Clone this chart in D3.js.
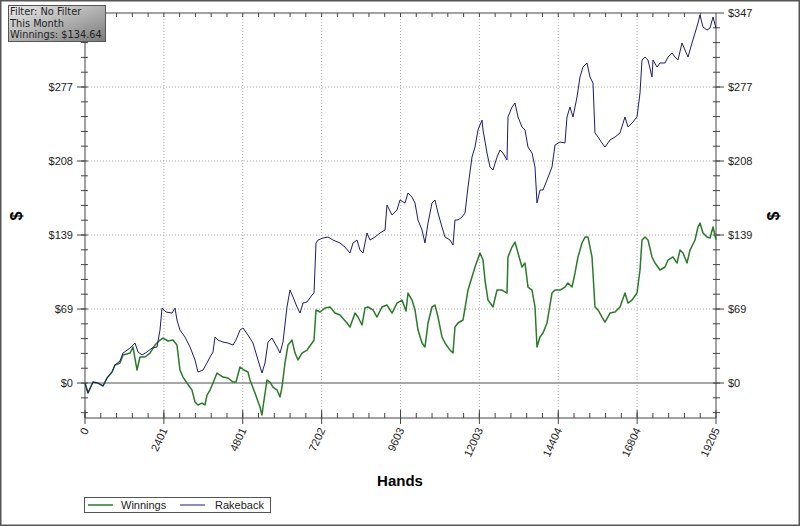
<!DOCTYPE html>
<html>
<head>
<meta charset="utf-8">
<script src="https://cdn.jsdelivr.net/npm/d3@7"></script>
<style>
  body { margin: 0; background: #fff; }
  svg { display: block; font-family: "Liberation Sans", Arial, sans-serif; }
</style>
</head>
<body>
<div class="chart"></div>
<script>
// hands played vs dollars
const winnings = [
  [0,0],[91,-9.4],[243,0.9],[396,0],[548,-2.8],[670,4.7],[822,10.3],[913,16.9],[1065,18.8],[1157,26.3],
  [1370,28.1],[1461,33.8],[1583,12.2],[1674,24.4],[1826,24.4],[1978,28.1],[2131,35.6],[2283,40.3],[2374,42.2],[2526,39.4],
  [2678,40.3],[2800,35.6],[2891,12.2],[2983,5.6],[3104,0],[3257,-6.6],[3348,-17.8],[3439,-20.6],[3561,-18.8],[3652,-20.6],
  [3713,-11.3],[3805,-6.6],[3896,0],[4018,9.4],[4109,7.5],[4200,5.6],[4352,4.7],[4505,0.9],[4596,0.9],[4718,15.0],
  [4839,12.2],[4961,10.3],[5022,2.8],[5174,-9.4],[5326,-22.5],[5387,-30.0],[5418,-22.5],[5539,2.8],[5631,0.9],[5722,-3.8],
  [5844,-6.6],[5935,-13.1],[5996,-3.8],[6087,18.8],[6179,35.6],[6300,40.3],[6392,28.1],[6483,21.6],[6605,28.1],[6757,30.9],
  [6909,37.5],[6970,40.3],[7031,68.5],[7152,66.6],[7305,70.3],[7457,71.3],[7609,65.6],[7761,63.8],[7974,56.3],[8066,52.5],
  [8218,65.6],[8309,61.9],[8431,54.4],[8522,70.3],[8613,71.3],[8766,68.5],[8887,61.9],[9039,71.3],[9192,73.1],[9344,65.6],
  [9496,75.0],[9648,77.8],[9770,67.5],[9831,84.4],[9953,77.8],[10044,68.5],[10135,49.7],[10257,37.5],[10348,33.8],[10440,56.3],
  [10561,71.3],[10653,73.1],[10744,61.9],[10866,43.1],[10957,37.5],[11109,30.9],[11200,28.1],[11261,52.5],[11353,56.3],[11505,59.1],
  [11657,87.2],[11779,99.4],[11870,108.8],[12022,121.9],[12114,115.3],[12174,96.6],[12266,77.8],[12418,71.3],[12540,87.2],[12692,87.2],
  [12844,84.4],[12874,118.2],[12996,127.5],[13087,132.2],[13179,121.9],[13300,108.8],[13392,112.5],[13483,90.0],[13605,87.2],[13696,71.3],
  [13757,33.8],[13848,43.1],[13940,46.9],[14061,56.3],[14213,84.4],[14305,87.2],[14457,87.2],[14609,90.0],[14700,93.8],[14822,90.0],
  [14914,103.2],[15005,118.2],[15127,131.3],[15218,136.9],[15309,136.9],[15431,118.2],[15461,103.2],[15522,71.3],[15614,68.5],[15735,61.9],
  [15827,57.2],[15979,65.6],[16131,66.6],[16283,71.3],[16435,84.4],[16527,75.0],[16648,77.8],[16801,84.4],[16892,106.0],[16953,134.1],
  [17044,136.9],[17135,134.1],[17257,118.2],[17349,112.5],[17501,106.0],[17653,108.8],[17744,115.3],[17896,118.2],[18018,112.5],[18109,124.7],
  [18200,121.9],[18322,112.5],[18414,124.7],[18566,134.1],[18657,146.3],[18718,150.0],[18809,140.7],[18931,136.9],[19023,136.0],[19114,146.3],
  [19205,134.64]
];

const rakeback = [
  [0,0],[91,-9.4],[243,0.9],[396,0],[548,-2.8],[670,4.7],[822,10.3],[913,16.9],[1065,20.6],[1157,28.1],
  [1370,32.8],[1522,37.5],[1613,29.1],[1735,26.3],[1887,29.1],[2039,32.8],[2191,33.8],[2283,49.7],[2344,70.3],[2465,66.6],
  [2648,65.6],[2739,70.3],[2800,59.1],[2891,49.7],[3044,43.1],[3196,33.8],[3348,21.6],[3439,10.3],[3591,12.2],[3713,18.8],
  [3805,24.4],[3896,29.1],[3957,43.1],[4048,40.3],[4200,38.4],[4352,37.5],[4505,35.6],[4596,40.3],[4718,49.7],[4809,51.6],
  [4961,45.0],[5113,37.5],[5265,21.6],[5387,9.4],[5478,18.8],[5570,38.4],[5691,42.2],[5844,33.8],[5935,28.1],[6026,38.4],
  [6148,71.3],[6239,87.2],[6331,80.7],[6453,71.3],[6544,65.6],[6635,75.0],[6757,76.0],[6909,82.5],[6970,84.4],[7031,131.3],
  [7092,134.1],[7244,136.0],[7396,136.9],[7548,134.1],[7761,131.3],[7913,127.5],[8066,121.9],[8157,131.3],[8279,134.1],[8370,124.7],
  [8461,121.9],[8583,140.7],[8674,134.1],[8826,136.9],[8979,140.7],[9131,143.5],[9192,166.9],[9344,157.6],[9496,162.2],[9587,171.6],
  [9740,168.8],[9831,178.2],[9953,174.4],[10044,168.8],[10135,152.9],[10257,143.5],[10348,131.3],[10440,150.0],[10561,168.8],[10653,171.6],
  [10744,159.4],[10866,146.3],[10957,136.9],[11109,134.1],[11200,129.4],[11261,152.9],[11353,152.9],[11474,155.7],[11566,159.4],[11657,183.8],
  [11779,211.9],[11870,221.3],[11961,237.3],[12083,246.6],[12114,237.3],[12235,215.7],[12327,202.6],[12418,199.8],[12540,211.9],[12631,218.5],
  [12722,215.7],[12844,209.1],[12874,249.5],[12996,258.8],[13087,262.6],[13179,249.5],[13300,240.1],[13392,237.3],[13483,221.3],[13605,215.7],
  [13696,202.6],[13757,168.8],[13848,181.0],[13940,181.0],[14061,190.4],[14213,202.6],[14305,223.2],[14457,226.0],[14609,225.1],[14670,249.5],
  [14761,258.8],[14853,249.5],[14975,268.2],[15066,287.0],[15157,296.3],[15279,300.1],[15370,287.0],[15461,281.3],[15522,234.5],[15614,230.7],
  [15735,225.1],[15827,221.3],[15979,227.9],[16131,230.7],[16283,234.5],[16435,249.5],[16527,240.1],[16648,243.8],[16801,249.5],[16892,272.0],
  [16953,302.9],[17044,305.7],[17135,302.9],[17257,287.0],[17288,302.9],[17410,296.3],[17501,300.1],[17653,300.1],[17744,305.7],[17866,309.5],
  [17957,305.7],[18048,302.9],[18170,318.9],[18262,312.3],[18353,305.7],[18475,318.9],[18566,328.2],[18657,337.6],[18718,345.1],[18809,333.9],
  [18931,331.0],[19023,332.9],[19114,343.2],[19205,332.9]
];

// axis ticks
const xTicks = [0, 2401, 4801, 7202, 9603, 12003, 14404, 16804, 19205];
const yTicks = [0, 69.4, 138.8, 208.2, 277.6, 347];
const yLabels = ["$0", "$69", "$139", "$208", "$277", "$347"];
const filterLines = ["Filter: No Filter", "This Month", "Winnings: $134.64"];

const width = 800;
const height = 526;
const margin = {top: 13, right: 84, bottom: 108, left: 85};

const svg = d3.select('.chart')
  .append('svg')
  .attr('width', width)
  .attr('height', height)

// outer frame
svg.append('rect')
  .attr('x', 0.75).attr('y', 0.75)
  .attr('width', width - 1.5).attr('height', height - 1.5)
  .attr('fill', '#fff')
  .attr('stroke', '#555')
  .attr('stroke-width', 1.5)

const x = d3.scaleLinear()
  .domain([0, 19205])
  .range([margin.left, width - margin.right])

const y = d3.scaleLinear()
  .domain([-32.8, 347])
  .range([height - margin.bottom, margin.top])

const x0 = margin.left, x1 = width - margin.right;
const y0 = height - margin.bottom, y1 = margin.top;

// dotted grid
svg.append('g').selectAll('line')
  .data(xTicks.slice(1, -1))
  .enter().append('line')
  .attr('x1', d => x(d)).attr('x2', d => x(d))
  .attr('y1', y1).attr('y2', y0)
  .attr('stroke', '#aaa')
  .attr('stroke-dasharray', '1,2')

svg.append('g').selectAll('line')
  .data(yTicks.slice(1, -1))
  .enter().append('line')
  .attr('x1', x0).attr('x2', x1)
  .attr('y1', d => y(d)).attr('y2', d => y(d))
  .attr('stroke', '#aaa')
  .attr('stroke-dasharray', '1,2')

// zero line
svg.append('line')
  .attr('x1', x0).attr('x2', x1)
  .attr('y1', y(0)).attr('y2', y(0))
  .attr('stroke', '#8a8a8a')
  .attr('stroke-width', 1.5)

// frame lines of the plot
svg.append('path')
  .attr('d', `M${x0},${y1}H${x1}V${y0}H${x0}Z`)
  .attr('fill', 'none')
  .attr('stroke', '#444')

// minor + major ticks
const xMinor = d3.range(0, 19205, 19205 / 40);
const yMinor = d3.range(-27.76, 347, 13.88);

svg.append('g').selectAll('line')
  .data(xMinor)
  .enter().append('line')
  .attr('x1', d => x(d)).attr('x2', d => x(d))
  .attr('y1', y0 - 5).attr('y2', y0)
  .attr('stroke', '#444')
svg.append('g').selectAll('line')
  .data(xTicks)
  .enter().append('line')
  .attr('x1', d => x(d)).attr('x2', d => x(d))
  .attr('y1', y0 - 8).attr('y2', y0 + 6)
  .attr('stroke', '#444')
svg.append('g').selectAll('line')
  .data(xMinor)
  .enter().append('line')
  .attr('x1', d => x(d)).attr('x2', d => x(d))
  .attr('y1', y1).attr('y2', y1 + 4)
  .attr('stroke', '#444')

svg.append('g').selectAll('line')
  .data(yMinor)
  .enter().append('line')
  .attr('x1', x0 - 4).attr('x2', x0 + 3)
  .attr('y1', d => y(d)).attr('y2', d => y(d))
  .attr('stroke', '#444')
svg.append('g').selectAll('line')
  .data(yTicks)
  .enter().append('line')
  .attr('x1', x0 - 8).attr('x2', x0)
  .attr('y1', d => y(d)).attr('y2', d => y(d))
  .attr('stroke', '#444')
svg.append('g').selectAll('line')
  .data(yMinor)
  .enter().append('line')
  .attr('x1', x1 - 3).attr('x2', x1 + 4)
  .attr('y1', d => y(d)).attr('y2', d => y(d))
  .attr('stroke', '#444')
svg.append('g').selectAll('line')
  .data(yTicks)
  .enter().append('line')
  .attr('x1', x1).attr('x2', x1 + 8)
  .attr('y1', d => y(d)).attr('y2', d => y(d))
  .attr('stroke', '#444')

// tick labels (the top left one sits under the filter box, so it is left out)
svg.append('g').selectAll('text')
  .data(yTicks.slice(0, -1))
  .enter().append('text')
  .attr('x', x0 - 12)
  .attr('y', d => y(d) + 4)
  .attr('text-anchor', 'end')
  .attr('font-size', 11)
  .attr('fill', '#222')
  .text((d, i) => yLabels[i])
svg.append('g').selectAll('text')
  .data(yTicks)
  .enter().append('text')
  .attr('x', x1 + 12)
  .attr('y', d => y(d) + 4)
  .attr('font-size', 11)
  .attr('fill', '#222')
  .text((d, i) => yLabels[i])

svg.append('g').selectAll('text')
  .data(xTicks)
  .enter().append('text')
  .attr('text-anchor', 'end')
  .attr('font-size', 11)
  .attr('fill', '#222')
  .attr('transform', d => `translate(${x(d) + 4},${y0 + 12}) rotate(-65)`)
  .text(d => d)

// axis titles
svg.append('text')
  .attr('transform', `translate(22,216) rotate(-90)`)
  .attr('text-anchor', 'middle')
  .attr('font-size', 16)
  .attr('font-weight', 'bold')
  .text('$')
svg.append('text')
  .attr('transform', `translate(779,216) rotate(-90)`)
  .attr('text-anchor', 'middle')
  .attr('font-size', 16)
  .attr('font-weight', 'bold')
  .text('$')
svg.append('text')
  .attr('x', 400).attr('y', 486)
  .attr('text-anchor', 'middle')
  .attr('font-size', 15)
  .attr('font-weight', 'bold')
  .text('Hands')

// the two lines
const line = d3.line()
  .x(d => x(d[0]))
  .y(d => y(d[1]))

svg.append('path')
  .datum(winnings)
  .attr('d', line)
  .attr('fill', 'none')
  .attr('stroke', '#2a7a2a')
  .attr('stroke-width', 1.5)
  .attr('stroke-linejoin', 'round')

svg.append('path')
  .datum(rakeback)
  .attr('d', line)
  .attr('fill', 'none')
  .attr('stroke', '#1c1c70')
  .attr('stroke-width', 1)
  .attr('stroke-linejoin', 'round')

// legend
const legend = svg.append('g')
legend.append('rect')
  .attr('x', 84.5).attr('y', 497.5)
  .attr('width', 186).attr('height', 15)
  .attr('fill', '#fff')
  .attr('stroke', '#555')
legend.append('line')
  .attr('x1', 88).attr('x2', 113).attr('y1', 505).attr('y2', 505)
  .attr('stroke', '#2a7a2a').attr('stroke-width', 1.5)
legend.append('text')
  .attr('x', 121).attr('y', 509)
  .attr('font-size', 11).attr('fill', '#222')
  .text('Winnings')
legend.append('line')
  .attr('x1', 180).attr('x2', 205).attr('y1', 505).attr('y2', 505)
  .attr('stroke', '#1c1c70').attr('stroke-width', 1)
legend.append('text')
  .attr('x', 215).attr('y', 509)
  .attr('font-size', 11).attr('fill', '#222')
  .text('Rakeback')

// filter info box
const grad = svg.append('defs').append('linearGradient')
  .attr('id', 'boxGrad')
  .attr('x1', '0').attr('y1', '0').attr('x2', '1').attr('y2', '1')
grad.append('stop').attr('offset', '0').attr('stop-color', '#ececec')
grad.append('stop').attr('offset', '1').attr('stop-color', '#7a7a7a')

svg.append('rect')
  .attr('x', 8.5).attr('y', 5.5)
  .attr('width', 97).attr('height', 36)
  .attr('fill', 'url(#boxGrad)')
  .attr('stroke', '#555')

svg.append('g').selectAll('text')
  .data(filterLines)
  .enter().append('text')
  .attr('x', 10)
  .attr('y', (d, i) => 15 + i * 11.6)
  .attr('font-family', '"DejaVu Sans", Verdana, sans-serif')
  .attr('font-size', 9.8)
  .attr('fill', '#222')
  .text(d => d)
</script>
</body>
</html>
